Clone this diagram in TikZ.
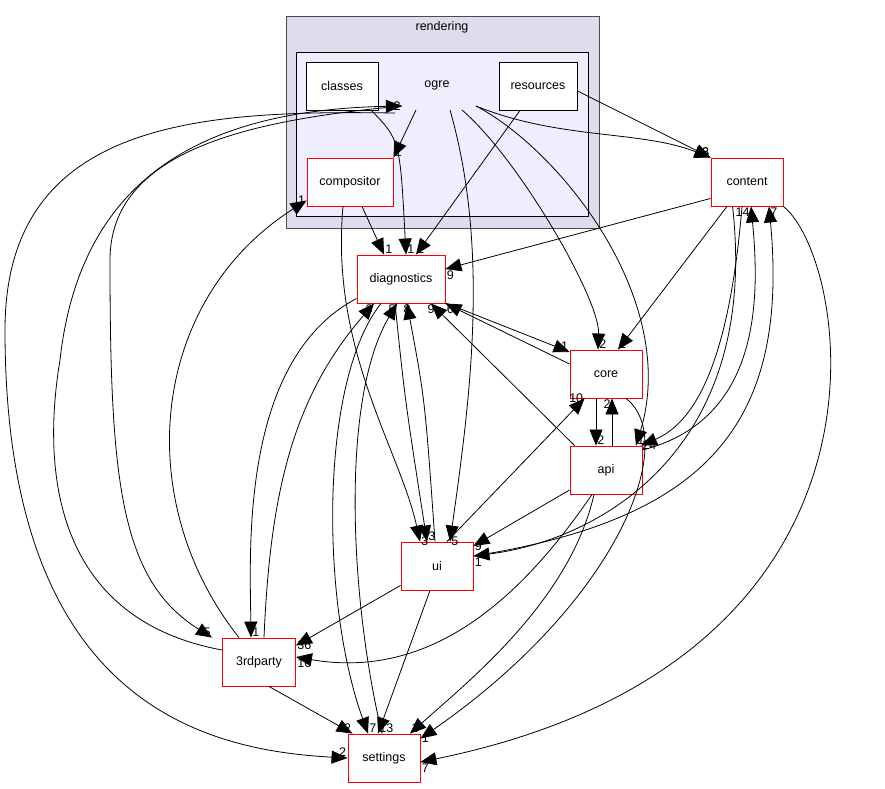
\documentclass[tikz,border=0pt]{standalone}
\usepackage{fontspec}
\setmainfont{Liberation Sans}
\usetikzlibrary{calc}
\usetikzlibrary{positioning}
\usetikzlibrary{arrows.meta}
\definecolor{outerc}{HTML}{DDDDEE}
\definecolor{innerc}{HTML}{EEEEFF}
\tikzset{
	dir/.style={draw=red, fill=white, line width=0.9pt, minimum width=72pt, minimum height=48pt, inner sep=0pt, font=\fontsize{12.5}{13}\selectfont},
	sub/.style={dir, draw=black},
	dep/.style={-{Triangle[length=16pt,width=13pt]}, line width=0.8pt},
	lbl/.style={font=\fontsize{12.5}{13}\selectfont, inner sep=1pt},
}
\begin{document}
\begin{tikzpicture}[x=1pt, y=-1pt]
	\useasboundingbox (0,0) rectangle (885,788);
	% clusters
	\filldraw[fill=outerc, draw=black!70, line width=0.9pt] (286,16) rectangle (599,228);
	\node[lbl] (rendering) at (442,27) {rendering};
	\filldraw[fill=innerc, draw=black, line width=0.9pt] (296,52) rectangle (588,216);
	\node[lbl] (ogre) at (437,85) {ogre};
	% directories
	\node[sub] (classes) at (342,86) {classes};
	\node[sub, minimum width=78pt] (resources) at (538,86) {resources};
	\node[dir, minimum width=86pt] (compositor) at (350,182) {compositor};
	\node[dir] (content) at (747,182) {content};
	\node[dir, minimum width=88pt] (diagnostics) at (401,279) {diagnostics};
	\node[dir] (core) at (606,374) {core};
	\node[dir] (api) at (606,470) {api};
	\node[dir] (ui) at (437,566) {ui};
	\node[dir, minimum width=73pt] (3rdparty) at (259,662) {3rdparty};
	\node[dir] (settings) at (384,758) {settings};
	% ogre ports
	\coordinate (o1) at (416,110);
	\coordinate (o2) at (450,110);
	\coordinate (o3) at (462,110);
	\coordinate (o4) at (476,106);
	\coordinate (o5) at (402,106);
	\coordinate (o6) at (371,110);
	\coordinate (o7) at (395,113);
	% edges out of ogre
	\draw[dep] (o1) -- (compositor.north east) node[lbl, pos=1, above right] {1};
	\draw[dep] (o6) .. controls (400,140) .. ($(diagnostics.north)+(5,0)$) node[lbl, pos=1, above right] {1};
	\draw[dep] (o2) .. controls (490,250) and (470,400) .. ($(ui.north)+(13,0)$) node[lbl, pos=1, right] {5};
	\draw[dep] (o3) .. controls (520,160) and (600,300) .. ($(core.north)+(-8,0)$) node[lbl, pos=1, above right] {2};
	\draw[dep] (o4) .. controls (560,150) and (680,300) .. ($(api.north)+(30,0)$) node[lbl, pos=1, above right] {1};
	\draw[dep] (o4) .. controls (560,140) and (640,130) .. (content.north west) node[lbl, pos=1, above left] {8};
	\draw[dep] (resources.east) ++(0,5) -- (content.north west) node[lbl, pos=1, above left] {8};
	\draw[dep] (resources.south) ++(-18,0) -- ($(diagnostics.north)+(15,0)$) node[lbl, pos=1, above right] {2};
	% compositor
	\draw[dep] (compositor.south) ++(12,0) -- ($(diagnostics.north)+(-17,0)$) node[lbl, pos=1, above right] {1};
	\draw[dep] (compositor.south) ++(-7,0) .. controls (330,350) and (400,450) .. ($(ui.north)+(-17,0)$) node[lbl, pos=1, right] {3};
	% content
	\draw[dep] (content.south west) ++(0,-8) -- ($(diagnostics.east)+(0,-10)$) node[lbl, pos=1, below right] {9};
	\draw[dep] (content.south) ++(-20,0) -- ($(core.north)+(12,0)$) node[lbl, pos=1, above right] {1};
	\draw[dep] (content.south) ++(-5,0) .. controls (730,350) and (700,420) .. ($(api.north)+(35,0)$) node[lbl, pos=1, right] {24};
	\draw[dep] (api.east) ++(0,-20) .. controls (760,420) and (760,300) .. ($(content.south)+(4,0)$) node[lbl, pos=1, below left] {14};
	\draw[dep] (ui.east) ++(0,-10) .. controls (700,520) and (790,430) .. ($(content.south)+(22,0)$) node[lbl, pos=1, below right] {7};
	\draw[dep] (content.south east) .. controls (850,260) and (920,660) .. ($(settings.east)+(0,4)$) node[lbl, pos=1, below right] {7};
	\draw[dep] (content.south west) ++(22,0) .. controls (760,450) and (600,540) .. ($(ui.east)+(0,-10)$) node[lbl, pos=1, below right] {1};
	% diagnostics
	\draw[dep] (diagnostics.south west) ++(0,-5) .. controls (240,360) and (250,550) .. ($(3rdparty.north)+(-8,0)$) node[lbl, pos=1, above right] {1};
	\draw[dep] (3rdparty.north) ++(5,0) .. controls (270,500) and (290,400) .. ($(diagnostics.south)+(-27,0)$) node[lbl, pos=1, below left] {3};
	\draw[dep] (diagnostics.south) ++(-20,0) .. controls (320,380) and (320,600) .. ($(settings.north)+(-16,0)$) node[lbl, pos=1, above right] {7};
	\draw[dep] (settings.north) ++(-2,0) .. controls (350,600) and (340,400) .. ($(diagnostics.south)+(-4,0)$) node[lbl, pos=1, below left] {5};
	\draw[dep] (diagnostics.south) ++(-6,0) .. controls (405,400) .. ($(ui.north)+(-10,0)$) node[lbl, pos=1, above right] {3};
	\draw[dep] (ui.north) ++(-2,0) .. controls (425,400) .. ($(diagnostics.south)+(6,0)$) node[lbl, pos=1, below] {8};
	\draw[dep] (api.north west) ++(5,0) -- ($(diagnostics.south)+(30,0)$) node[lbl, pos=1, below] {9};
	\draw[dep] (core.west) ++(0,-10) -- (diagnostics.south east) node[lbl, pos=1, below right] {6};
	\draw[dep] (diagnostics.east) ++(0,24) -- ($(core.west)+(0,-22)$) node[lbl, pos=1, above left] {1};
	% core and api
	\draw[dep] (core.south) ++(-10,0) -- ($(api.north)+(-10,0)$) node[lbl, pos=1, above right] {2};
	\draw[dep] (api.north) ++(6,0) -- ($(core.south)+(6,0)$) node[lbl, pos=1, below left] {2};
	\draw[dep] (ui.north) ++(10,0) -- ($(core.south west)+(15,0)$) node[lbl, pos=1, left] {10};
	\draw[dep] (api.west) ++(0,20) -- ($(ui.east)+(0,-20)$) node[lbl, pos=1, right] {9};
	\draw[dep] (core.south) ++(20,0) .. controls (680,440) and (620,600) .. ($(settings.north east)+(0,5)$) node[lbl, pos=1, right] {1};
	\draw[dep] (api.south) ++(-14,0) .. controls (520,600) and (430,680) .. ($(3rdparty.east)+(0,-5)$) node[lbl, pos=1, below right] {16};
	\draw[dep] (api.south) ++(-12,0) .. controls (570,600) and (470,680) .. ($(settings.north)+(26,0)$) node[lbl, pos=1, above right] {1};
	% ui
	\draw[dep] (ui.south west) ++(0,-5) -- ($(3rdparty.north east)+(0,8)$) node[lbl, pos=1, right] {36};
	\draw[dep] (ui.south) ++(-7,0) -- ($(settings.north)+(-6,0)$) node[lbl, pos=1, above right] {13};
	% 3rdparty
	\draw[dep] (3rdparty.south) ++(10,0) -- ($(settings.north west)+(5,0)$) node[lbl, pos=1, above left] {2};
	\draw[dep] (3rdparty.west) ++(0,-12) .. controls (60,620) and (40,480) .. (60,360) .. controls (80,180) and (200,110) .. (o5) node[lbl, pos=1, left] {2};
	\draw[dep] (o5) .. controls (250,120) and (110,150) .. (110,260) .. controls (110,480) and (120,580) .. ($(3rdparty.north west)+(-10,0)$) node[lbl, pos=1, above left] {5};
	\draw[dep] (3rdparty.north) ++(-20,0) .. controls (130,500) and (150,300) .. ($(compositor.south west)+(0,-6)$) node[lbl, pos=1, left] {1};
	\draw[dep] (o7) .. controls (200,110) and (5,120) .. (5,330) .. controls (5,700) and (200,750) .. (settings.west) node[lbl, pos=1, above left] {2};
\end{tikzpicture}
\end{document}
